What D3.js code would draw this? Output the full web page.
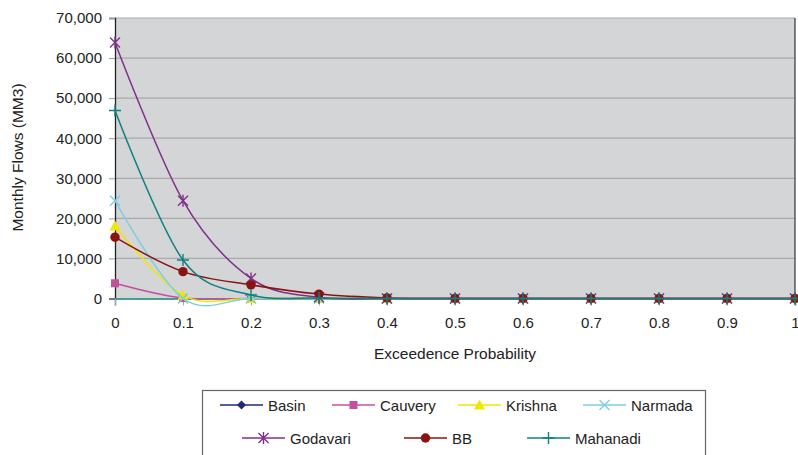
<!DOCTYPE html>
<html><head><meta charset="utf-8">
<script src="https://cdn.jsdelivr.net/npm/d3@7"></script>
<style>body{margin:0;background:#fff}text{font-family:"Liberation Sans",Arial,sans-serif;fill:#222}</style>
</head><body><svg id="c" width="798" height="455"></svg>
<script>
const probs = [0,0.1,0.2,0.3,0.4,0.5,0.6,0.7,0.8,0.9,1];
const yTicks = [0,10000,20000,30000,40000,50000,60000,70000];
const xTicks = [0,0.1,0.2,0.3,0.4,0.5,0.6,0.7,0.8,0.9,1];
const basin    = [null,null,null,null,null,null,null,null,null,null,null];
const cauvery  = [3800,100,0,0,0,0,0,0,0,0,0];
const krishna  = [18100,800,0,0,0,0,0,0,0,0,0];
const narmada  = [24400,0,0,0,0,0,0,0,0,0,0];
const godavari = [63900,24400,5000,300,0,0,0,0,0,0,0];
const bb       = [15300,6700,3400,1100,150,0,0,0,0,0,0];
const mahanadi = [46900,9600,900,100,0,0,0,0,0,0,0];
const seriesNames = ["Basin","Cauvery","Krishna","Narmada","Godavari","BB","Mahanadi"];
const seriesData = [basin,cauvery,krishna,narmada,godavari,bb,mahanadi];
const colors = ["#1f2a78","#c4509c","#f2e600","#7ccfe0","#80308a","#8a1414","#0f8080"];
const shapes = ["diamond","square","triangle","x","star","circle","plus"];

const svg = d3.select("#c");
const L=115,R=795,T=18,B=298.5;
const x = d3.scaleLinear().domain([0,1]).range([L,R]);
const y = d3.scaleLinear().domain([0,70000]).range([B,T]);

svg.append("rect").attr("x",L).attr("y",T).attr("width",R-L).attr("height",B-T).attr("fill","#d4d5d7");
svg.append("g").selectAll("line").data(yTicks.filter(d=>d>0)).join("line")
  .attr("x1",L).attr("x2",R).attr("y1",d=>y(d)).attr("y2",d=>y(d)).attr("stroke","#a9a9a9").attr("stroke-width",1.2);

const yAxis = d3.axisLeft(y).tickValues(yTicks).tickFormat(d3.format(",")).tickSize(6).tickPadding(7);
const gy = svg.append("g").attr("transform",`translate(${L},0)`).call(yAxis);
gy.select(".domain").attr("stroke","#222").attr("stroke-width",1.3);
gy.selectAll(".tick line").attr("stroke","#999");
gy.selectAll("text").attr("font-size","15px").attr("fill","#222").style("font-family","Liberation Sans, Arial, sans-serif");

const xAxis = d3.axisBottom(x).tickValues(xTicks).tickFormat(d=>d===0?"0":d===1?"1":d3.format(".1f")(d)).tickSize(7).tickPadding(12);
const gx = svg.append("g").attr("transform",`translate(0,${B})`).call(xAxis);
gx.select(".domain").attr("stroke","#0f8080").attr("stroke-width",1.5);
gx.selectAll(".tick line").attr("stroke","#aaa");
gx.selectAll("text").attr("font-size","15px").attr("fill","#222").style("font-family","Liberation Sans, Arial, sans-serif");

svg.append("line").attr("x1",R).attr("x2",R).attr("y1",T).attr("y2",B).attr("stroke","#333").attr("stroke-width",1.2);

svg.append("text").attr("x",455).attr("y",359).attr("text-anchor","middle").attr("font-size","15.5px").text("Exceedence Probability");
svg.append("text").attr("transform","translate(23,157.5) rotate(-90)").attr("text-anchor","middle").attr("font-size","15.5px").text("Monthly Flows (MM3)");

function marker(g, shape, color, cx, cy){
  const s = g.append("g").attr("transform",`translate(${cx},${cy})`);
  if(shape==="diamond") s.append("path").attr("d","M0,-4.5L4.5,0L0,4.5L-4.5,0Z").attr("fill",color);
  else if(shape==="square") s.append("rect").attr("x",-4).attr("y",-4).attr("width",8).attr("height",8).attr("fill",color);
  else if(shape==="triangle") s.append("path").attr("d","M0,-5.5L5.5,4.5L-5.5,4.5Z").attr("fill",color);
  else if(shape==="circle") s.append("circle").attr("r",4.7).attr("fill",color);
  else if(shape==="x") s.append("path").attr("d","M-5,-5L5,5M-5,5L5,-5").attr("stroke",color).attr("stroke-width",1.4);
  else if(shape==="star") s.append("path").attr("d","M-5,-5L5,5M-5,5L5,-5M0,-6L0,6").attr("stroke",color).attr("stroke-width",1.4);
  else if(shape==="plus") s.append("path").attr("d","M-6,0L6,0M0,-6L0,6").attr("stroke",color).attr("stroke-width",1.4);
}

const line = d3.line().defined(d=>d!==null).x((d,i)=>x(probs[i])).y(d=>y(d)).curve(d3.curveCardinal.tension(0));
seriesData.forEach((data,k)=>{
  const g = svg.append("g");
  g.append("path").attr("d",line(data)).attr("fill","none").attr("stroke",colors[k]).attr("stroke-width",1.5);
  data.forEach((v,i)=>{ if(v!==null) marker(g,shapes[k],colors[k],x(probs[i]),y(v)); });
});

const lg = svg.append("g");
lg.append("rect").attr("x",202.5).attr("y",390.5).attr("width",503).attr("height",80).attr("fill","#fff").attr("stroke","#666").attr("stroke-width",1.2);
const legPos = [[220,405],[332,405],[458,405],[583,405],[242,438],[404,438],[527,438]];
seriesNames.forEach((n,k)=>{
  const [lx,ly]=legPos[k];
  lg.append("line").attr("x1",lx).attr("x2",lx+43).attr("y1",ly).attr("y2",ly).attr("stroke",colors[k]).attr("stroke-width",1.5);
  marker(lg,shapes[k],colors[k],lx+21.5,ly);
  lg.append("text").attr("x",lx+48).attr("y",ly+5.5).attr("font-size","15px").text(n);
});
</script></body></html>
